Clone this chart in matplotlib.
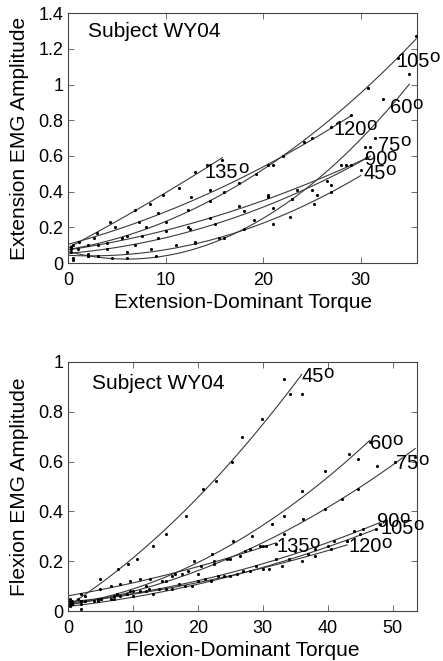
import numpy as np
import matplotlib
matplotlib.use("Agg")
import matplotlib.pyplot as plt
from matplotlib.ticker import FuncFormatter

plt.rcParams['font.family'] = ['Liberation Sans', 'DejaVu Sans']

# ---- Extension-dominant trials (EMG amplitude vs torque, per elbow angle) ----
ext_angles = ["45", "60", "75", "90", "105", "120", "135"]

ext_x_45 = [0.5, 2.0, 3.0, 6.0, 8.5, 11.0, 13.0, 15.5, 18.0, 21.0, 22.7, 25.2, 27.0, 30.0]
ext_y_45 = [0.02, 0.04, 0.04, 0.06, 0.08, 0.10, 0.12, 0.14, 0.19, 0.22, 0.26, 0.33, 0.40, 0.52]
ext_x_60 = [0.5, 2.0, 4.5, 6.0, 9.0, 13.0, 16.0, 19.0, 21.0, 23.0, 25.0, 28.0, 30.4, 31.5, 32.3, 35.0]
ext_y_60 = [0.03, 0.04, 0.03, 0.03, 0.04, 0.11, 0.14, 0.24, 0.31, 0.36, 0.41, 0.55, 0.65, 0.70, 0.92, 1.06]
ext_x_75 = [0.3, 2.0, 4.0, 6.8, 9.2, 12.5, 15.0, 18.0, 20.5, 23.0, 25.5, 27.0, 29.0, 31.0]
ext_y_75 = [0.06, 0.05, 0.08, 0.10, 0.14, 0.19, 0.22, 0.29, 0.37, 0.36, 0.38, 0.44, 0.55, 0.65]
ext_x_90 = [1.0, 3.0, 5.5, 7.5, 10.0, 12.3, 14.5, 17.5, 20.5, 23.5, 26.5, 28.5, 30.5]
ext_y_90 = [0.08, 0.10, 0.14, 0.15, 0.18, 0.20, 0.25, 0.32, 0.38, 0.41, 0.46, 0.55, 0.59]
ext_x_105 = [0.3, 2.0, 4.0, 6.0, 8.0, 10.0, 12.3, 14.5, 17.5, 20.5, 22.0, 25.0, 30.8, 33.8, 35.7]
ext_y_105 = [0.08, 0.10, 0.11, 0.15, 0.20, 0.23, 0.30, 0.35, 0.45, 0.55, 0.60, 0.70, 0.98, 1.15, 1.27]
ext_x_120 = [0.5, 2.6, 4.8, 7.2, 9.2, 12.6, 14.5, 16.0, 19.3, 21.0, 24.2, 27.0, 29.0]
ext_y_120 = [0.10, 0.14, 0.20, 0.23, 0.28, 0.37, 0.41, 0.40, 0.50, 0.55, 0.68, 0.76, 0.83]
ext_x_135 = [0.3, 1.1, 2.9, 4.3, 6.8, 8.4, 9.7, 11.3, 13.0, 14.2, 15.8]
ext_y_135 = [0.09, 0.12, 0.17, 0.23, 0.30, 0.33, 0.38, 0.42, 0.51, 0.55, 0.58]

ext_label_x = [30.3, 33.0, 31.8, 30.4, 33.7, 27.2, 14.0]
ext_label_y = [0.50, 0.87, 0.66, 0.58, 1.13, 0.75, 0.51]

# ---- Flexion-dominant trials ----
flx_angles = ["45", "60", "75", "90", "105", "120", "135"]

flx_x_45 = [0.3, 1.5, 2.5, 4.9, 7.7, 9.2, 10.5, 13.0, 15.1, 18.1, 20.8, 22.7, 25.2, 26.7, 29.8, 33.2, 34.2, 36.0]
flx_y_45 = [0.04, 0.05, 0.06, 0.13, 0.17, 0.19, 0.21, 0.26, 0.31, 0.38, 0.49, 0.52, 0.60, 0.70, 0.77, 0.93, 0.87, 0.87]
flx_x_60 = [0.5, 2.0, 5.0, 7.5, 9.5, 12.0, 15.9, 19.3, 22.1, 25.4, 28.3, 31.4, 33.2, 36.1, 39.6, 43.3, 44.7, 46.5]
flx_y_60 = [0.03, 0.04, 0.05, 0.07, 0.08, 0.10, 0.14, 0.20, 0.23, 0.28, 0.30, 0.35, 0.38, 0.48, 0.56, 0.63, 0.61, 0.68]
flx_x_75 = [0.3, 2.0, 4.5, 7.0, 10.0, 12.5, 15.0, 17.5, 20.0, 22.5, 25.0, 27.2, 30.0, 33.2, 36.2, 39.6, 42.2, 44.7, 47.6, 50.4, 53.5]
flx_y_75 = [0.03, 0.03, 0.05, 0.06, 0.08, 0.09, 0.12, 0.15, 0.15, 0.19, 0.21, 0.24, 0.26, 0.31, 0.37, 0.41, 0.45, 0.49, 0.58, 0.60, 0.62]
flx_x_90 = [0.5, 2.5, 5.0, 8.0, 11.0, 14.0, 17.0, 20.0, 23.0, 26.0, 29.0, 32.0, 35.0, 38.0, 41.0, 44.0, 45.5, 48.0]
flx_y_90 = [0.04, 0.04, 0.05, 0.06, 0.08, 0.09, 0.11, 0.12, 0.14, 0.15, 0.18, 0.21, 0.24, 0.25, 0.28, 0.32, 0.33, 0.35]
flx_x_105 = [0.3, 2.0, 4.5, 7.0, 10.0, 13.0, 16.0, 19.0, 22.0, 25.0, 28.0, 31.0, 34.0, 37.0, 40.0, 43.0, 45.0, 47.5]
flx_y_105 = [0.02, 0.01, 0.04, 0.05, 0.06, 0.07, 0.09, 0.10, 0.12, 0.14, 0.16, 0.17, 0.21, 0.23, 0.26, 0.28, 0.31, 0.33]
flx_x_120 = [0.5, 2.0, 4.0, 6.5, 9.0, 12.0, 15.0, 18.0, 21.0, 24.0, 27.0, 30.0, 33.0, 36.0, 38.0, 40.5, 43.0]
flx_y_120 = [0.03, 0.04, 0.04, 0.05, 0.07, 0.08, 0.09, 0.10, 0.13, 0.14, 0.16, 0.17, 0.18, 0.20, 0.22, 0.25, 0.28]
flx_x_135 = [0.3, 2.0, 4.9, 6.6, 8.0, 9.5, 11.0, 12.6, 14.5, 16.5, 18.5, 20.5, 22.5, 24.5, 26.5, 28.0, 29.5, 30.5, 32.0]
flx_y_135 = [0.05, 0.07, 0.09, 0.10, 0.11, 0.12, 0.13, 0.13, 0.12, 0.15, 0.16, 0.18, 0.20, 0.21, 0.22, 0.25, 0.26, 0.26, 0.27]

flx_label_x = [36.0, 46.5, 50.6, 47.6, 48.1, 43.2, 32.1]
flx_label_y = [0.94, 0.672, 0.592, 0.358, 0.33, 0.258, 0.258]

ext_series = [(ext_x_45, ext_y_45), (ext_x_60, ext_y_60), (ext_x_75, ext_y_75),
              (ext_x_90, ext_y_90), (ext_x_105, ext_y_105), (ext_x_120, ext_y_120),
              (ext_x_135, ext_y_135)]
flx_series = [(flx_x_45, flx_y_45), (flx_x_60, flx_y_60), (flx_x_75, flx_y_75),
              (flx_x_90, flx_y_90), (flx_x_105, flx_y_105), (flx_x_120, flx_y_120),
              (flx_x_135, flx_y_135)]

LINE_C = "#3a3a3a"
TICK_FS = 13
LABEL_FS = 15
ANN_FS = 14.5


def fmt(v, pos):
    return "%g" % round(v, 3)


def angle_label(ax, x, y, text):
    """Angle number with a raised lowercase 'o' as the degree mark."""
    t = ax.text(x, y, text, fontsize=ANN_FS, ha="left", va="center",
                color="black", zorder=4)
    ax.annotate("o", xy=(1, 0), xycoords=t, xytext=(-0.3, 3.2),
                textcoords="offset points", fontsize=ANN_FS - 1,
                ha="left", va="bottom", color="black", zorder=4)


def draw_panel(ax, series, angles, lx, ly, xlim, ylim, yticks, xticks, xlabel, ylabel, subj_xy):
    for (xs, ys), ang, tx, ty in zip(series, angles, lx, ly):
        xs = np.asarray(xs)
        ys = np.asarray(ys)
        coef = np.polyfit(xs, ys, 2)
        xf = np.linspace(0, xs.max(), 200)
        ax.plot(xf, np.polyval(coef, xf), color=LINE_C, lw=0.8, zorder=2)
        ax.scatter(xs, ys, s=5, color="black", zorder=3, linewidths=0)
        angle_label(ax, tx, ty, ang)
    ax.set_xlim(*xlim)
    ax.set_ylim(*ylim)
    ax.set_xticks(xticks)
    ax.set_yticks(yticks)
    ax.xaxis.set_major_formatter(FuncFormatter(fmt))
    ax.yaxis.set_major_formatter(FuncFormatter(fmt))
    ax.tick_params(direction="in", length=4, width=0.6, top=True, right=True,
                   labelsize=TICK_FS, color="#555555")
    ax.tick_params(axis="x", pad=6.5)
    ax.tick_params(axis="y", pad=3.5)
    for sp in ax.spines.values():
        sp.set_linewidth(0.8)
        sp.set_color("#444444")
    ax.set_xlabel(xlabel, fontsize=LABEL_FS, labelpad=2.5)
    ax.set_ylabel(ylabel, fontsize=LABEL_FS, labelpad=7)
    ax.text(subj_xy[0], subj_xy[1], "Subject WY04", fontsize=LABEL_FS,
            ha="left", va="center")


fig = plt.figure(figsize=(4.43, 6.61), dpi=100)
ax1 = fig.add_axes([0.1546, 0.602, 0.787, 0.378])
ax2 = fig.add_axes([0.1546, 0.0756, 0.787, 0.377])

draw_panel(ax1, ext_series, ext_angles, ext_label_x, ext_label_y,
           (0, 35.8), (0, 1.4), np.arange(0, 1.41, 0.2), [0, 10, 20, 30],
           "Extension-Dominant Torque", "Extension EMG Amplitude", (2.0, 1.30))
draw_panel(ax2, flx_series, flx_angles, flx_label_x, flx_label_y,
           (0, 53.8), (0, 1.0), np.arange(0, 1.01, 0.2), [0, 10, 20, 30, 40, 50],
           "Flexion-Dominant Torque", "Flexion EMG Amplitude", (3.6, 0.913))

fig.savefig("out.png", dpi=100)
